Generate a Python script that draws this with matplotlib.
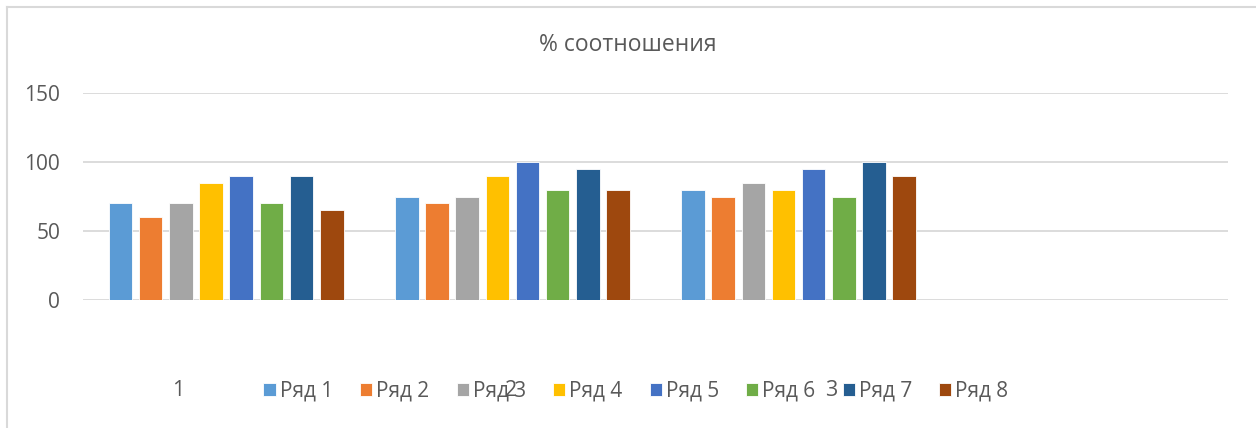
import matplotlib
matplotlib.use("Agg")
import matplotlib.pyplot as plt
from matplotlib.lines import Line2D
import numpy as np

plt.rcParams['font.family'] = ['Open Sans', 'DejaVu Sans']

categories = ["1", "2", "3", "4"]
series_names = ["Ряд 1", "Ряд 2", "Ряд 3", "Ряд 4", "Ряд 5", "Ряд 6", "Ряд 7", "Ряд 8"]
values = {
    "Ряд 1": [70, 75, 80, None],
    "Ряд 2": [60, 70, 75, None],
    "Ряд 3": [70, 75, 85, None],
    "Ряд 4": [85, 90, 80, None],
    "Ряд 5": [90, 100, 95, None],
    "Ряд 6": [70, 80, 75, None],
    "Ряд 7": [90, 95, 100, None],
    "Ряд 8": [65, 80, 90, None],
}
colors = ["#5B9BD5", "#ED7D31", "#A5A5A5", "#FFC000",
          "#4472C4", "#70AD47", "#255E91", "#9E480E"]
title = "% соотношения"
yticks = [0, 50, 100, 150]

W, H = 1256, 428
fig = plt.figure(figsize=(W / 100, H / 100), dpi=100)
ax = fig.add_axes([83 / W, 1 - 300 / H, (1228 - 83) / W, (300 - 93) / H])

x = np.arange(len(categories))
pitch = 0.1054
bw = 0.0823
for i, (name, col) in enumerate(zip(series_names, colors)):
    vals = values[name]
    xs = [x[j] + (i - 3.5) * pitch for j, v in enumerate(vals) if v is not None]
    ys = [v for v in vals if v is not None]
    ax.bar(xs, ys, width=bw, color=col, edgecolor="white", linewidth=0.6,
           label=name, zorder=3)

ax.set_xlim(-0.5, len(categories) - 0.5)
ax.set_ylim(0, 150)
ax.set_yticks(yticks)
ax.set_xticks([])
ax.grid(axis="y", color="#D9D9D9", linewidth=1.3, zorder=0)
for s in ax.spines.values():
    s.set_visible(False)
ax.tick_params(axis="y", length=0, pad=16.5, labelsize=15, labelcolor="#595959")

fig.text(0.5, 1 - 45 / H, title, ha="center", va="center",
         fontsize=16.5, color="#595959")

# category labels below the plot
for lab, px in zip(categories[:3], [178, 511, 831]):
    fig.text(px / W, 1 - 391 / H, lab, ha="center", va="center",
             fontsize=15.5, color="#595959")

leg = fig.legend(loc="center", bbox_to_anchor=(636 / W, 1 - 391 / H), ncol=8,
                 frameon=False, fontsize=15, handlelength=0.58, handleheight=0.58,
                 handletextpad=0.2, columnspacing=1.3, borderpad=0, borderaxespad=0)
for t in leg.get_texts():
    t.set_color("#595959")

# chart-area frame
fig.add_artist(Line2D([7 / W, 7 / W], [0, 1 - 7 / H], transform=fig.transFigure,
                      color="#D9D9D9", linewidth=1.5))
fig.add_artist(Line2D([7 / W, 1], [1 - 7 / H, 1 - 7 / H], transform=fig.transFigure,
                      color="#D9D9D9", linewidth=1.5))

fig.savefig("out.png", dpi=100, facecolor="white")
